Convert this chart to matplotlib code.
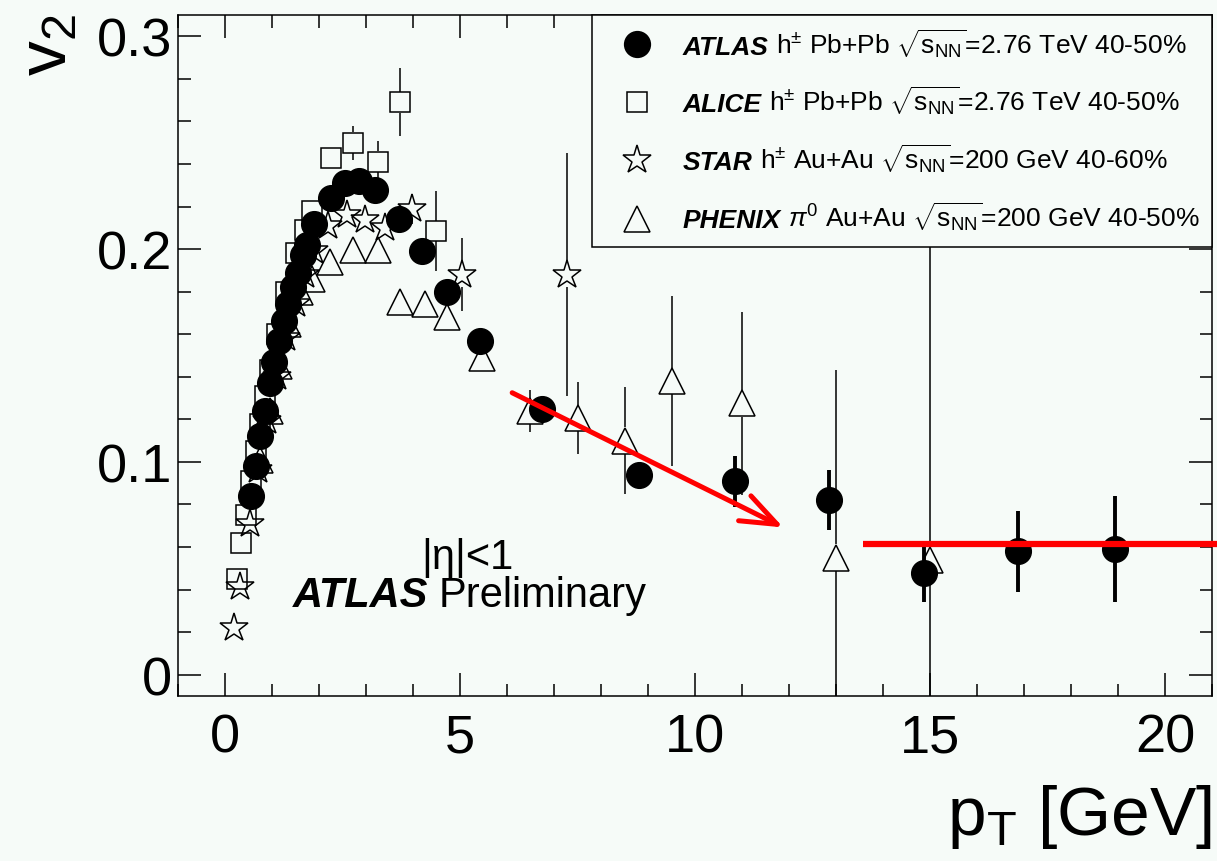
import matplotlib
matplotlib.use('Agg')
import matplotlib.pyplot as plt
from matplotlib.ticker import MultipleLocator
from matplotlib.patches import Rectangle
import numpy as np

plt.rcParams['font.family'] = ['Liberation Sans', 'DejaVu Sans']
plt.rcParams['mathtext.fontset'] = 'custom'
plt.rcParams['mathtext.rm'] = 'Liberation Sans'
plt.rcParams['mathtext.it'] = 'Liberation Sans:italic'
plt.rcParams['mathtext.bf'] = 'Liberation Sans:bold'

BG = '#f6fbf8'

# ---------------- data ----------------
atlas_pt = [0.55, 0.65, 0.75, 0.85, 0.95, 1.05, 1.15, 1.25, 1.35, 1.45, 1.55, 1.65,
            1.75, 1.9, 2.25, 2.55, 2.85, 3.2, 3.7, 4.2, 4.72, 5.43, 6.74, 8.8,
            10.85, 12.85, 14.88, 16.88, 18.94]
atlas_v2 = [0.084, 0.098, 0.112, 0.124, 0.137, 0.147, 0.157, 0.166, 0.174, 0.182, 0.189, 0.197,
            0.202, 0.212, 0.224, 0.231, 0.232, 0.228, 0.214, 0.199, 0.180, 0.157, 0.125, 0.094,
            0.091, 0.082, 0.048, 0.058, 0.059]
atlas_err = [0.001, 0.001, 0.001, 0.001, 0.001, 0.001, 0.001, 0.001, 0.001, 0.001, 0.001, 0.001,
             0.001, 0.001, 0.001, 0.001, 0.001, 0.001, 0.002, 0.002, 0.002, 0.003, 0.003, 0.004,
             0.012, 0.014, 0.014, 0.019, 0.025]

alice_pt = [0.25, 0.35, 0.45, 0.55, 0.65, 0.75, 0.85, 0.95, 1.1, 1.3, 1.5, 1.7, 1.85,
            2.25, 2.73, 3.25, 3.72, 4.49]
alice_v2 = [0.045, 0.062, 0.075, 0.091, 0.105, 0.118, 0.131, 0.143, 0.160, 0.180, 0.198, 0.209, 0.218,
            0.243, 0.250, 0.241, 0.269, 0.2085]
alice_err = [0.001, 0.001, 0.001, 0.001, 0.001, 0.001, 0.001, 0.001, 0.001, 0.001, 0.002, 0.002, 0.002,
             0.003, 0.008, 0.010, 0.016, 0.019]

star_pt = [0.2, 0.32, 0.53, 0.7, 0.9, 1.1, 1.3, 1.5, 1.7, 1.9, 2.2, 2.59, 2.98, 3.4, 3.97, 5.04, 7.27]
star_v2 = [0.022, 0.041, 0.071, 0.096, 0.119, 0.140, 0.158, 0.174, 0.188, 0.199, 0.211, 0.216, 0.2135,
           0.210, 0.219, 0.188, 0.188]
star_err = [0.001, 0.001, 0.001, 0.001, 0.001, 0.001, 0.001, 0.002, 0.002, 0.002, 0.002, 0.003, 0.003,
            0.004, 0.007, 0.017, 0.057]

phenix_pt = [0.75, 0.95, 1.15, 1.35, 1.6, 1.85, 2.23, 2.73, 3.26, 3.72, 4.26, 4.72, 5.47, 6.49,
             7.5, 8.5, 9.5, 11.0, 13.0, 15.0]
phenix_v2 = [0.101, 0.124, 0.145, 0.165, 0.180, 0.186, 0.194, 0.1995, 0.1995, 0.175, 0.174, 0.168,
             0.1486, 0.124, 0.1205, 0.110, 0.138, 0.1275, 0.055, 0.054]
phenix_err = [0.001, 0.001, 0.001, 0.001, 0.001, 0.002, 0.002, 0.002, 0.002, 0.002, 0.002, 0.003,
              0.004, 0.010, 0.017, 0.025, 0.040, 0.043, 0.088, 0.160]

# annotation lines (drawn on the original slide)
arrow_start = (6.11, 0.1325)
arrow_end = (11.88, 0.0692)
flat_x = [13.57, 21.12]
flat_y = 0.0616

x_ticks = [0, 5, 10, 15, 20]
x_ticklabels = ['0', '5', '10', '15', '20']
y_ticks = [0.0, 0.1, 0.2, 0.3]
y_ticklabels = ['0', '0.1', '0.2', '0.3']

legend_names = ['ATLAS', 'ALICE', 'STAR', 'PHENIX']
legend_rest = [r'h$^{\pm}$ Pb+Pb $\sqrt{\mathrm{s}_{\mathrm{NN}}}$=2.76 TeV 40-50%',
               r'h$^{\pm}$ Pb+Pb $\sqrt{\mathrm{s}_{\mathrm{NN}}}$=2.76 TeV 40-50%',
               r'h$^{\pm}$ Au+Au $\sqrt{\mathrm{s}_{\mathrm{NN}}}$=200 GeV 40-60%',
               r'$\pi^{0}$ Au+Au $\sqrt{\mathrm{s}_{\mathrm{NN}}}$=200 GeV 40-50%']

# ---------------- figure ----------------
W, H = 1217, 862
DPI = 100
fig = plt.figure(figsize=(W / DPI, H / DPI), dpi=DPI, facecolor=BG)
ax_l, ax_r, ax_t, ax_b = 178, 1212, 16, 697
ax = fig.add_axes([ax_l / W, 1 - ax_b / H, (ax_r - ax_l) / W, (ax_b - ax_t) / H])
ax.set_facecolor(BG)
ax.set_xlim(-1, 21)
ax.set_ylim(-0.01, 0.31)

for s in ax.spines.values():
    s.set_linewidth(1.1)

ax.set_xticks(x_ticks)
ax.set_xticklabels(x_ticklabels)
ax.set_yticks(y_ticks)
ax.set_yticklabels(y_ticklabels)
ax.xaxis.set_minor_locator(MultipleLocator(1))
ax.yaxis.set_minor_locator(MultipleLocator(0.02))
ax.tick_params(which='both', direction='in', top=True, right=True, width=1.1)
ax.tick_params(which='major', length=16.5, labelsize=39)
ax.tick_params(which='minor', length=9)
ax.tick_params(axis='x', which='major', pad=12)
ax.tick_params(axis='y', which='major', pad=4)

# pixel-per-data helpers for error bars that stop at the marker edge
ypix_per_unit = (ax_b - ax_t) / (0.31 - (-0.01))


def half_height(ms_pt, frac=0.5):
    return ms_pt * frac * DPI / 72.0 / ypix_per_unit


def split_errors(xs, ys, es, half, lw, z):
    for x, y, e in zip(xs, ys, es):
        if e > half:
            ax.vlines(x, y + half, y + e, color='black', lw=lw, zorder=z)
            ax.vlines(x, y - e, y - half, color='black', lw=lw, zorder=z)


MS_SQ, MS_ST, MS_TR, MS_CI = 15, 21, 19, 18.5
MEW = 1.1

# ALICE
split_errors(alice_pt, alice_v2, alice_err, half_height(MS_SQ), 1.1, 2)
ax.plot(alice_pt, alice_v2, 's', ms=MS_SQ, mfc='none', mec='black', mew=MEW, zorder=3)
# STAR
split_errors(star_pt, star_v2, star_err, half_height(MS_ST, 0.42), 1.1, 2)
ax.plot(star_pt, star_v2, '*', ms=MS_ST, mfc='none', mec='black', mew=MEW, zorder=3)
# PHENIX
split_errors(phenix_pt, phenix_v2, phenix_err, half_height(MS_TR), 1.1, 2)
ax.plot(phenix_pt, phenix_v2, '^', ms=MS_TR, mfc='none', mec='black', mew=MEW, zorder=3)
# ATLAS
ax.errorbar(atlas_pt, atlas_v2, yerr=atlas_err, fmt='o', ms=MS_CI, mfc='black', mec='black',
            ecolor='black', elinewidth=2.8, capsize=0, zorder=4)

# red annotations
ax.annotate('', xy=arrow_end, xytext=arrow_start,
            arrowprops=dict(arrowstyle='->,head_length=0.65,head_width=0.25', color='#ff0000',
                            lw=3.6, mutation_scale=40, shrinkA=0, shrinkB=0),
            zorder=8)
ax.plot(flat_x, [flat_y, flat_y], color='#ff0000', lw=4.5, solid_capstyle='butt',
        clip_on=False, zorder=8)

# texts in plot
renderer = fig.canvas.get_renderer()
t_atlas = ax.text(1.45, 0.0323, 'ATLAS', fontsize=30, fontweight='bold', style='italic',
                  va='baseline', ha='left', zorder=6)
bb = t_atlas.get_window_extent(renderer)
xnext = ax.transData.inverted().transform((bb.x1 + 10, bb.y0))[0]
ax.text(xnext, 0.0323, 'Preliminary', fontsize=30, va='baseline', ha='left', zorder=6)
ax.text(4.18, 0.050, '|η|<1', fontsize=30, va='baseline', ha='left', zorder=6)

# legend (manual, ROOT style)
leg_left = (592 - ax_l) / (ax_r - ax_l)
leg_bottom = (ax_b - 248) / (ax_b - ax_t)
ax.add_patch(Rectangle((leg_left, leg_bottom), 1 - leg_left, 1 - leg_bottom,
                       transform=ax.transAxes, facecolor=BG, edgecolor='black', lw=1.1,
                       zorder=10, clip_on=False))
marker_specs = [dict(marker='o', ms=MS_CI, mfc='black'),
                dict(marker='s', ms=MS_SQ, mfc='none'),
                dict(marker='*', ms=MS_ST, mfc='none'),
                dict(marker='^', ms=MS_TR, mfc='none')]
marker_rows_px = [45, 103, 161, 220]
text_rows_px = [55, 112, 170, 228]
mx = (637 - ax_l) / (ax_r - ax_l)
tx = (683 - ax_l) / (ax_r - ax_l)
for spec, mrow, trow, name, rest in zip(marker_specs, marker_rows_px, text_rows_px,
                                         legend_names, legend_rest):
    my = (ax_b - mrow) / (ax_b - ax_t)
    ty = (ax_b - trow) / (ax_b - ax_t)
    ax.plot([mx], [my], linestyle='none', mec='black', mew=MEW, transform=ax.transAxes,
            zorder=11, clip_on=False, **spec)
    t = ax.text(tx, ty, name, transform=ax.transAxes, fontsize=19, fontweight='bold',
                style='italic', va='baseline', ha='left', zorder=12)
    b = t.get_window_extent(renderer)
    xr = ax.transAxes.inverted().transform((b.x1 + 7, b.y0))[0]
    ax.text(xr, ty, rest, transform=ax.transAxes, fontsize=19, va='baseline', ha='left',
            zorder=12)

# axis titles (ROOT style: at the ends of the axes)
fig.text(48 / W, 1 - 14 / H, r'$\mathrm{v}_{2}$', rotation=90, fontsize=50, ha='center', va='top')
fig.text(1212 / W, 1 - 835 / H, r'$\mathrm{p}_{\mathrm{T}}$ [GeV]', fontsize=50, ha='right',
         va='baseline')

fig.savefig('out.png', dpi=DPI, facecolor=BG)
